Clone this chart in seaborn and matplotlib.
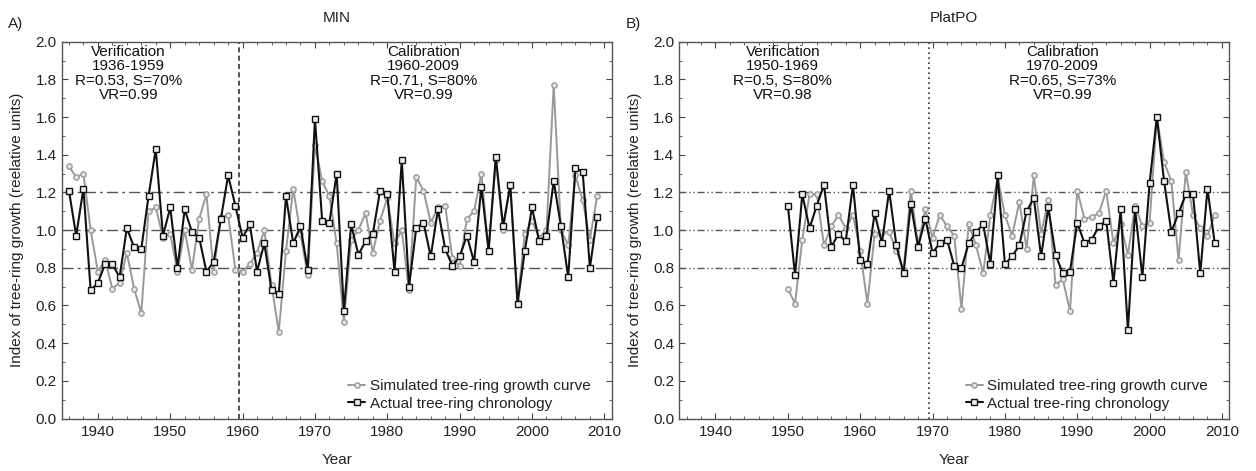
import numpy as np
import pandas as pd
import matplotlib
matplotlib.use("Agg")
import matplotlib.pyplot as plt
from matplotlib.ticker import MultipleLocator
import seaborn as sns

# ---------------- data ----------------
years_a = list(range(1936, 2010))
actual_a = [1.21, 0.97, 1.22, 0.68, 0.72, 0.82, 0.82, 0.75, 1.01, 0.91,
            0.90, 1.18, 1.43, 0.97, 1.12, 0.80, 1.11, 0.99, 0.96, 0.78,
            0.83, 1.06, 1.29, 1.13, 0.96, 1.03, 0.78, 0.93, 0.68, 0.66,
            1.18, 0.93, 1.02, 0.79, 1.59, 1.05, 1.04, 1.30, 0.57, 1.03,
            0.87, 0.94, 0.98, 1.21, 1.19, 0.78, 1.37, 0.70, 1.01, 1.04,
            0.86, 1.11, 0.90, 0.81, 0.86, 0.97, 0.83, 1.23, 0.89, 1.39,
            1.02, 1.24, 0.61, 0.89, 1.12, 0.94, 0.97, 1.26, 1.02, 0.75,
            1.33, 1.31, 0.80, 1.07]
sim_a = [1.34, 1.28, 1.30, 1.00, 0.78, 0.84, 0.69, 0.72, 0.88, 0.69,
         0.56, 1.10, 1.12, 0.96, 0.98, 0.78, 1.00, 0.79, 1.06, 1.19,
         0.78, 1.07, 1.08, 0.79, 0.78, 0.82, 0.88, 1.00, 0.71, 0.46,
         0.89, 1.22, 0.98, 0.76, 1.45, 1.26, 1.18, 0.93, 0.51, 0.95,
         1.00, 1.09, 0.88, 1.05, 1.17, 0.93, 1.00, 0.68, 1.28, 1.21,
         1.04, 1.12, 1.13, 0.85, 0.81, 1.06, 1.10, 1.30, 0.89, 1.37,
         1.00, 1.24, 0.62, 0.98, 1.05, 0.96, 1.00, 1.77, 1.00, 0.92,
         1.29, 1.16, 0.95, 1.18]

years_b = list(range(1950, 2010))
actual_b = [1.13, 0.76, 1.19, 1.01, 1.13, 1.24, 0.91, 0.98, 0.94, 1.24,
            0.84, 0.82, 1.09, 0.93, 1.21, 0.92, 0.77, 1.14, 0.91, 1.06,
            0.88, 0.93, 0.95, 0.81, 0.80, 0.93, 0.99, 1.03, 0.82, 1.29,
            0.82, 0.86, 0.92, 1.10, 1.17, 0.86, 1.12, 0.87, 0.77, 0.78,
            1.04, 0.93, 0.95, 1.02, 1.05, 0.72, 1.11, 0.47, 1.11, 0.75,
            1.25, 1.60, 1.26, 0.99, 1.09, 1.19, 1.19, 0.77, 1.22, 0.93]
sim_b = [0.69, 0.61, 0.95, 1.19, 1.19, 0.92, 1.02, 1.08, 1.01, 1.08,
         0.89, 0.61, 0.98, 0.99, 0.99, 0.89, 0.79, 1.21, 0.92, 1.11,
         0.96, 1.08, 1.02, 0.97, 0.58, 1.03, 0.92, 0.77, 1.08, 1.28,
         1.08, 0.97, 1.15, 0.90, 1.29, 0.98, 1.16, 0.71, 0.74, 0.57,
         1.21, 1.06, 1.07, 1.09, 1.21, 0.93, 1.03, 0.87, 1.13, 1.02,
         1.04, 1.60, 1.36, 1.26, 0.84, 1.31, 1.08, 1.01, 0.97, 1.08]

panels = [
    dict(tag="A)", title="MIN", years=years_a, actual=actual_a, sim=sim_a, split=1959.5,
         ver="Verification\n1936-1959\nR=0.53, S=70%\nVR=0.99", ver_x=1944.2,
         cal="Calibration\n1960-2009\nR=0.71, S=80%\nVR=0.99", cal_x=1985.0,
         hdash=(8, 3, 2, 3), vdash=(3, 2)),
    dict(tag="B)", title="PlatPO", years=years_b, actual=actual_b, sim=sim_b, split=1969.5,
         ver="Verification\n1950-1969\nR=0.5, S=80%\nVR=0.98", ver_x=1949.3,
         cal="Calibration\n1970-2009\nR=0.65, S=73%\nVR=0.99", cal_x=1988.0,
         hdash=(5, 2, 1, 2, 1, 2), vdash=(1, 2)),
]
ref_levels = [0.8, 1.0, 1.2]

# ---------------- style ----------------
sns.set_style("ticks")
plt.rcParams["font.family"] = ["Liberation Sans", "DejaVu Sans"]
plt.rcParams["font.size"] = 11

fig = plt.figure(figsize=(12.56, 4.71), dpi=100)
W, H = 1256, 471
ax_w = 549.9 / W
ax_h = (418.5 - 41.7) / H
ax_b = 1 - 418.5 / H
lefts = [61.7 / W, 679.3 / W]

for p, lx in zip(panels, lefts):
    ax = fig.add_axes([lx, ax_b, ax_w, ax_h])
    df = pd.DataFrame({"Year": p["years"], "sim": p["sim"], "act": p["actual"]})
    for lev in ref_levels:
        ax.axhline(lev, color="#555555", lw=1.0, dashes=p["hdash"], zorder=1)
    ax.axvline(p["split"], color="#333333", lw=1.2, dashes=p["vdash"], zorder=1)
    sns.lineplot(data=df, x="Year", y="sim", ax=ax, color="#999999", lw=1.4,
                 marker="o", markersize=3.8, markerfacecolor="#e6e6e6",
                 markeredgecolor="#999999", markeredgewidth=1.0,
                 label="Simulated tree-ring growth curve", zorder=3)
    sns.lineplot(data=df, x="Year", y="act", ax=ax, color="#111111", lw=1.5,
                 marker="s", markersize=4.0, markerfacecolor="#eeeeee",
                 markeredgecolor="#111111", markeredgewidth=1.0,
                 label="Actual tree-ring chronology", zorder=4)
    ax.set_xlim(1935, 2011)
    ax.set_ylim(0.0, 2.0)
    ax.xaxis.set_major_locator(MultipleLocator(10))
    ax.xaxis.set_minor_locator(MultipleLocator(2))
    ax.yaxis.set_major_locator(MultipleLocator(0.2))
    ax.yaxis.set_minor_locator(MultipleLocator(0.1))
    ax.yaxis.set_major_formatter(matplotlib.ticker.FormatStrFormatter("%.1f"))
    ax.tick_params(which="both", direction="in", top=True, right=True,
                   colors="#444444", labelcolor="#222222", labelsize=11)
    ax.tick_params(axis="x", which="major", pad=5)
    ax.tick_params(which="major", length=4)
    ax.tick_params(which="minor", length=2)
    for s in ax.spines.values():
        s.set_color("#555555")
        s.set_linewidth(1.0)
    ax.set_xlabel("Year", fontsize=11, color="#222222")
    ax.set_ylabel("Index of tree-ring growth (reelative units)", fontsize=11, color="#222222")
    ax.xaxis.set_label_coords(0.5, -0.092)
    ax.yaxis.set_label_coords(-0.068, 0.5)
    ax.set_title(p["title"], fontsize=11, color="#222222", pad=14)
    ax.text(p["ver_x"], 1.985, p["ver"], ha="center", va="top", fontsize=11,
            linespacing=1.05, color="#111111")
    ax.text(p["cal_x"], 1.985, p["cal"], ha="center", va="top", fontsize=11,
            linespacing=1.05, color="#111111")
    leg = ax.legend(loc="lower left", bbox_to_anchor=(0.51, 0.005), frameon=False,
                    fontsize=11, handlelength=1.1, handletextpad=0.3,
                    labelspacing=0.2, borderaxespad=0.2, borderpad=0.2)
    for t in leg.get_texts():
        t.set_color("#222222")
    fig.text(lx - 53.7 / W, 1 - 28 / H, p["tag"], fontsize=11, color="#222222",
             ha="left", va="baseline")

fig.savefig("out.png", dpi=100)
